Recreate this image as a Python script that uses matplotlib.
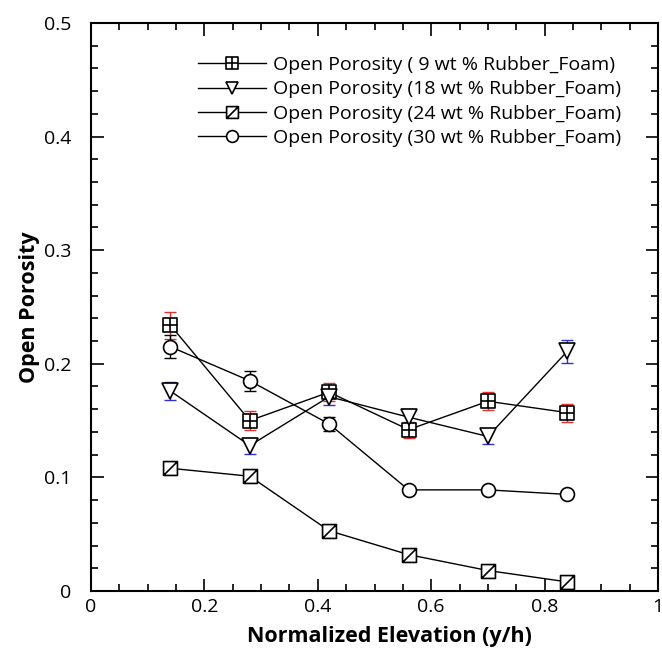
import numpy as np
import matplotlib
matplotlib.use("Agg")
import matplotlib.pyplot as plt
from matplotlib.path import Path
from matplotlib.ticker import MultipleLocator

plt.rcParams['font.family'] = ['Open Sans', 'DejaVu Sans']

# normalized elevation
x = [0.14, 0.28, 0.42, 0.56, 0.70, 0.84]

# open porosity per rubber foam content
p9 = [0.234, 0.150, 0.175, 0.142, 0.167, 0.157]
e9 = [0.012, 0.008, 0.008, 0.007, 0.008, 0.008]
p18 = [0.176, 0.128, 0.171, 0.153, 0.136, 0.211]
e18 = [0.008, 0.007, 0.007, 0.007, 0.007, 0.010]
p24 = [0.108, 0.101, 0.053, 0.032, 0.018, 0.008]
p30 = [0.215, 0.185, 0.147, 0.089, 0.089, 0.085]
e30 = [0.010, 0.009, 0.006, 0.0, 0.0, 0.0]

labels = ['Open Porosity ( 9 wt % Rubber_Foam)',
          'Open Porosity (18 wt % Rubber_Foam)',
          'Open Porosity (24 wt % Rubber_Foam)',
          'Open Porosity (30 wt % Rubber_Foam)']

# custom markers: square with cross, square with diagonal
sq = [(-1, -1), (1, -1), (1, 1), (-1, 1), (-1, -1)]
sq_codes = [Path.MOVETO, Path.LINETO, Path.LINETO, Path.LINETO, Path.CLOSEPOLY]
cross_sq = Path(sq + [(0, -1), (0, 1), (-1, 0), (1, 0)],
                sq_codes + [Path.MOVETO, Path.LINETO, Path.MOVETO, Path.LINETO])
diag_sq = Path(sq + [(-1, -1), (1, 1)],
               sq_codes + [Path.MOVETO, Path.LINETO])

fig = plt.figure(figsize=(6.62, 6.49), dpi=100)
ax = fig.add_axes([0.1375, 0.0894, 0.8565, 0.8752])

ms = 10
common = dict(color='black', lw=1.0, mfc='white', mec='black', mew=1.2, ms=ms)

ax.errorbar(x, p9, yerr=e9, fmt='none', ecolor='#e03030', elinewidth=1.0, capsize=4, zorder=2)
ax.errorbar(x, p18, yerr=e18, fmt='none', ecolor='#3030d0', elinewidth=1.0, capsize=4, zorder=2)
ax.errorbar(x[:3], p30[:3], yerr=e30[:3], fmt='none', ecolor='black', elinewidth=1.0, capsize=4, zorder=2)

ax.plot(x, p9, marker=cross_sq, label=labels[0], zorder=3, **common)
ax.plot(x, p18, marker='v', label=labels[1], zorder=3, **dict(common, ms=11))
ax.plot(x, p24, marker=diag_sq, label=labels[2], zorder=3, **common)
ax.plot(x, p30, marker='o', label=labels[3], zorder=3, **common)

ax.set_xlim(0, 1)
ax.set_ylim(0, 0.5)
ax.xaxis.set_major_locator(MultipleLocator(0.2))
ax.xaxis.set_minor_locator(MultipleLocator(0.05))
ax.yaxis.set_major_locator(MultipleLocator(0.1))
ax.yaxis.set_minor_locator(MultipleLocator(0.02))
ax.set_xticks([0, 0.2, 0.4, 0.6, 0.8, 1.0])
ax.set_xticklabels(['0', '0.2', '0.4', '0.6', '0.8', '1'])
ax.set_yticks([0, 0.1, 0.2, 0.3, 0.4, 0.5])
ax.set_yticklabels(['0', '0.1', '0.2', '0.3', '0.4', '0.5'])
ax.tick_params(which='both', direction='in', top=True, right=True, labelsize=14, width=1.2)
ax.tick_params(which='major', length=9)
ax.tick_params(which='minor', length=5)
ax.tick_params(axis='x', which='major', pad=5)
ax.tick_params(axis='y', which='major', pad=14)
for s in ax.spines.values():
    s.set_linewidth(1.5)

ax.set_xlabel('Normalized Elevation (y/h)', fontsize=15.5, fontweight='bold')
ax.xaxis.set_label_coords(0.5256, -0.062)
ax.set_ylabel('Open Porosity', fontsize=15.5, fontweight='bold', labelpad=3)

ax.legend(loc='upper left', bbox_to_anchor=(0.188, 0.942), frameon=False,
          fontsize=14, handlelength=3.5, handletextpad=0.4, labelspacing=0.33,
          borderpad=0, borderaxespad=0, markerscale=0.85)

fig.savefig('out.png', dpi=100)
